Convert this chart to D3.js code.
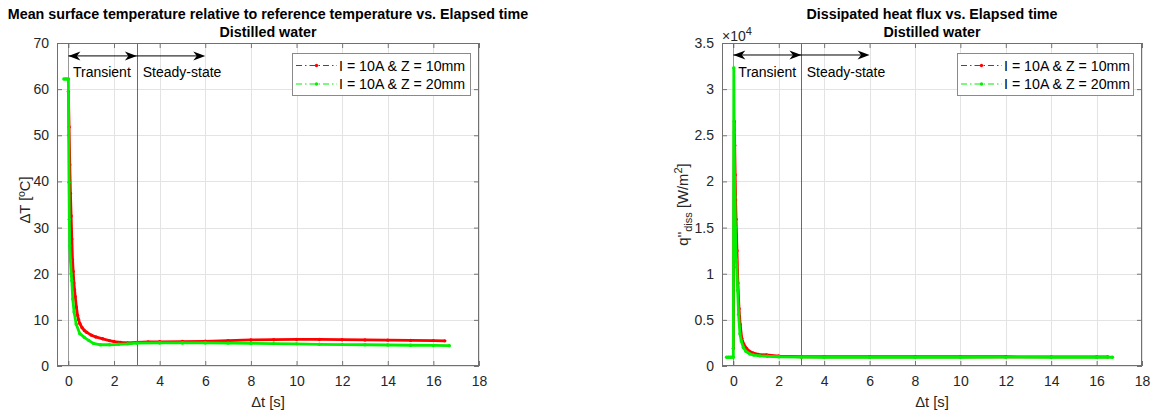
<!DOCTYPE html>
<html><head><meta charset="utf-8">
<script src="https://cdn.jsdelivr.net/npm/d3@7"></script>
<style>
body{margin:0;background:#fff;}
svg{display:block;font-family:"Liberation Sans",Arial,sans-serif;}
</style></head>
<body><svg id="c" width="1158" height="417"></svg>
<script>
// ---------------- data ----------------
const xTicks = [0,2,4,6,8,10,12,14,16,18];
const tempTicks = [0,10,20,30,40,50,60,70];
const fluxTicks = [0,5000,10000,15000,20000,25000,30000,35000];
const fluxTickLabels = ["0","0.5","1","1.5","2","2.5","3","3.5"];
const seriesNames = ["I = 10A & Z = 10mm","I = 10A & Z = 20mm"];
const seriesColors = ["#ff0000","#00f000"];

// Left: ΔT [ºC] vs Δt [s]
const tempRedT = [0,0.03,0.06,0.09,0.12,0.15,0.18,0.21,0.24,0.27,0.3,0.35,0.4,0.45,0.5,0.6,0.7,0.8,1.0,1.2,1.5,1.8,2.0,2.3,2.6,3.0,3.5,4,5,6,7,8,9,10,11,12,13,14,15,16,16.5];
const tempRedV = [59.5,51.8,43.6,37.4,32.5,27.5,23,20.5,18,16.5,15,12.8,11,10,9.2,8.3,7.7,7.3,6.7,6.3,5.9,5.5,5.3,5.1,5.0,5.1,5.2,5.25,5.3,5.35,5.5,5.65,5.7,5.75,5.75,5.7,5.65,5.6,5.55,5.5,5.45];
const tempGreenT = [-0.2,-0.1,0,0.01,0.025,0.04,0.06,0.09,0.12,0.15,0.19,0.25,0.34,0.5,0.7,0.9,1.1,1.4,1.8,2.2,2.6,3,4,5,6,7,8,9,10,11,12,13,14,15,16,16.7];
const tempGreenV = [62.2,62.2,62.2,50,39.8,31.8,26,22.8,20,18.5,14.5,11.7,9.1,7.0,6.2,5.5,4.9,4.6,4.6,4.7,4.8,4.95,5.0,5.0,5.0,4.95,4.9,4.85,4.8,4.7,4.65,4.6,4.55,4.5,4.45,4.4];

// Right: q''diss [W/m2] vs Δt [s]
const fluxRedT = [0,0.04,0.06,0.08,0.1,0.12,0.16,0.2,0.25,0.3,0.37,0.45,0.58,0.7,0.88,1.1,1.46,2,3,4,6,8,10,12,14,16,16.5];
const fluxRedV = [1900,26500,23900,20700,18000,15900,12500,9000,6200,4500,3000,2400,1900,1600,1400,1250,1200,1080,1000,1000,1000,1000,1000,1000,990,980,980];
const fluxGreenT = [-0.3,-0.2,-0.1,0,0.02,0.04,0.05,0.07,0.09,0.11,0.13,0.15,0.19,0.23,0.29,0.35,0.44,0.55,0.73,0.9,1.17,1.5,2,3,4,6,8,10,12,14,16,16.7];
const fluxGreenV = [950,950,950,950,32300,25300,20500,18300,15000,12500,11500,10700,8200,5600,3500,2700,2000,1600,1300,1180,1100,1050,1000,960,950,950,950,950,960,950,950,950];

// annotations: [x0 (double arrow start), x1 (phase boundary), x2 (arrow end)]
const phaseX = [0,3,6];
const phaseLabels = ["Transient","Steady-state"];

// ---------------- drawing ----------------
const svg = d3.select("#c");
const font = '"Liberation Sans",Arial,sans-serif';
const axisCol = "#262626";

function panel(cfg){
  const {L,R,T,B} = cfg;
  const g = svg.append("g");
  const x = d3.scaleLinear().domain([-0.5,18]).range([L,R]);
  const y = d3.scaleLinear().domain(cfg.yDomain).range([B,T]);
  const id = "clip"+cfg.key;
  svg.append("clipPath").attr("id",id).append("rect").attr("x",L).attr("y",T).attr("width",R-L).attr("height",B-T);

  // grid
  g.append("g").selectAll("line.gx").data(xTicks).join("line")
    .attr("x1",d=>Math.round(x(d))+0.5).attr("x2",d=>Math.round(x(d))+0.5)
    .attr("y1",T).attr("y2",B).attr("stroke","#e3e3e3").attr("stroke-width",1);
  g.append("g").selectAll("line.gy").data(cfg.yTicks).join("line")
    .attr("y1",d=>Math.round(y(d))+0.5).attr("y2",d=>Math.round(y(d))+0.5)
    .attr("x1",L).attr("x2",R).attr("stroke","#e3e3e3").attr("stroke-width",1);

  // vertical phase lines
  g.append("line").attr("x1",Math.round(x(phaseX[0]))+0.5).attr("x2",Math.round(x(phaseX[0]))+0.5)
    .attr("y1",T).attr("y2",B).attr("stroke","#9a9a9a").attr("stroke-width",1);
  g.append("line").attr("x1",Math.round(x(phaseX[1]))+0.5).attr("x2",Math.round(x(phaseX[1]))+0.5)
    .attr("y1",T).attr("y2",B).attr("stroke","#6a6a6a").attr("stroke-width",1);

  // series
  const dg = g.append("g").attr("clip-path",`url(#${id})`);
  cfg.series.forEach((s,i)=>{
    const pts = s.t.map((t,k)=>[t,s.v[k]]);
    dg.append("path").datum(pts)
      .attr("d",d3.line().x(d=>x(d[0])).y(d=>y(d[1])))
      .attr("fill","none").attr("stroke",seriesColors[i]).attr("stroke-width",2.8)
      .attr("stroke-linejoin","round");
    dg.append("g").selectAll("circle").data(pts).join("circle")
      .attr("cx",d=>x(d[0])).attr("cy",d=>y(d[1])).attr("r",1.7).attr("fill",seriesColors[i]);
  });

  // axes (inward ticks)
  const ax = g.append("g").attr("transform",`translate(0,${B})`)
    .call(d3.axisBottom(x).tickValues(xTicks).tickSize(-5).tickPadding(10).tickFormat(d3.format("d")));
  const axT = g.append("g").attr("transform",`translate(0,${T})`)
    .call(d3.axisTop(x).tickValues(xTicks).tickSize(-5).tickFormat(""));
  const ay = g.append("g").attr("transform",`translate(${L},0)`)
    .call(d3.axisLeft(y).tickValues(cfg.yTicks).tickSize(-5).tickPadding(8).tickFormat((d,i)=>cfg.yLabels[i]));
  const ayR = g.append("g").attr("transform",`translate(${R},0)`)
    .call(d3.axisRight(y).tickValues(cfg.yTicks).tickSize(-5).tickFormat(""));
  [ax,axT,ay,ayR].forEach(a=>{
    a.select(".domain").remove();
    a.selectAll(".tick line").attr("stroke",axisCol).attr("stroke-width",0.6);
    a.selectAll("text").attr("fill",axisCol).style("font-size","14px").style("font-family",font);
  });
  g.append("rect").attr("x",L+0.5).attr("y",T+0.5).attr("width",R-L-1).attr("height",B-T-1)
    .attr("fill","none").attr("stroke","#707070").attr("stroke-width",1);

  // arrows
  const ay0 = y(cfg.arrowY);
  const head = (xt,dir)=>{
    const p = `M${xt},${ay0} L${xt-dir*12},${ay0-4.5} L${xt-dir*8.5},${ay0} L${xt-dir*12},${ay0+4.5}Z`;
    g.append("path").attr("d",p).attr("fill","#000");
  };
  g.append("line").attr("x1",x(phaseX[0])).attr("x2",x(phaseX[2])-4).attr("y1",ay0).attr("y2",ay0)
    .attr("stroke","#000").attr("stroke-width",1);
  head(x(phaseX[0]),-1); head(x(phaseX[1]),1); head(x(phaseX[2]),1);
  g.append("text").attr("x",x(cfg.labelX[0])).attr("y",y(cfg.labelY)).attr("dy","0.36em")
    .style("font-size","14px").attr("fill","#000").text(phaseLabels[0]);
  g.append("text").attr("x",x(cfg.labelX[1])).attr("y",y(cfg.labelY)).attr("dy","0.36em")
    .style("font-size","14px").attr("fill","#000").text(phaseLabels[1]);

  // legend
  const lg = g.append("g");
  lg.append("rect").attr("x",cfg.legX+0.5).attr("y",53.5).attr("width",cfg.legW).attr("height",42)
    .attr("fill","#fff").attr("stroke","#8a8a8a").attr("stroke-width",1);
  seriesNames.forEach((n,i)=>{
    const yy = 65.5 + i*18.5;
    lg.append("line").attr("x1",cfg.legX+4).attr("x2",cfg.legX+45).attr("y1",yy).attr("y2",yy)
      .attr("stroke",seriesColors[i]).attr("stroke-width",1).attr("stroke-dasharray","6,3,1.5,3");
    lg.append("circle").attr("cx",cfg.legX+24.5).attr("cy",yy).attr("r",1.7).attr("fill",seriesColors[i]);
    lg.append("text").attr("x",cfg.legX+47).attr("y",yy).attr("dy","0.36em")
      .style("font-size","14.2px").attr("fill","#000").text(n);
  });

  // titles
  const cx = (L+R)/2;
  g.append("text").attr("x",cx).attr("y",19).attr("text-anchor","middle")
    .style("font-size","14.3px").style("font-weight","bold").attr("fill","#000").text(cfg.title);
  g.append("text").attr("x",cx).attr("y",36.5).attr("text-anchor","middle")
    .style("font-size","14.3px").style("font-weight","bold").attr("fill","#000").text("Distilled water");
  // x label
  g.append("text").attr("x",cx).attr("y",407).attr("text-anchor","middle")
    .style("font-size","14.8px").attr("fill",axisCol).text("\u0394t [s]");
  return {g,x,y};
}

const P1 = panel({key:"a",L:57,R:479,T:43,B:366,yDomain:[0,70],yTicks:tempTicks,
  yLabels:tempTicks.map(String),
  series:[{t:tempRedT,v:tempRedV},{t:tempGreenT,v:tempGreenV}],
  arrowY:67.2,labelX:[0.2,3.26],labelY:63.8,legX:292,legW:178,
  title:"Mean surface temperature relative to reference temperature vs. Elapsed time"});
P1.g.append("text").attr("transform","translate(30,200) rotate(-90)").attr("text-anchor","middle")
  .style("font-size","14.8px").attr("fill",axisCol).text("\u0394T [\u00baC]");

const P2 = panel({key:"b",L:722,R:1142,T:43,B:366,yDomain:[0,35000],yTicks:fluxTicks,
  yLabels:fluxTickLabels,
  series:[{t:fluxRedT,v:fluxRedV},{t:fluxGreenT,v:fluxGreenV}],
  arrowY:33700,labelX:[0.22,3.23],labelY:31900,legX:957,legW:176,
  title:"Dissipated heat flux vs. Elapsed time"});
const yl = P2.g.append("text").attr("transform","translate(688,204.5) rotate(-90)").attr("text-anchor","middle")
  .style("font-size","14.8px").attr("fill",axisCol);
yl.append("tspan").text("q''");
yl.append("tspan").attr("dy",4).style("font-size","11px").text("diss");
yl.append("tspan").attr("dy",-4).text(" [W/m");
yl.append("tspan").attr("dy",-6).style("font-size","11px").text("2");
yl.append("tspan").attr("dy",6).text("]");
const ex = P2.g.append("text").attr("x",722).attr("y",41).style("font-size","14px").attr("fill",axisCol);
ex.append("tspan").text("\u00d710");
ex.append("tspan").attr("dy",-6).style("font-size","11px").text("4");
</script></body></html>
